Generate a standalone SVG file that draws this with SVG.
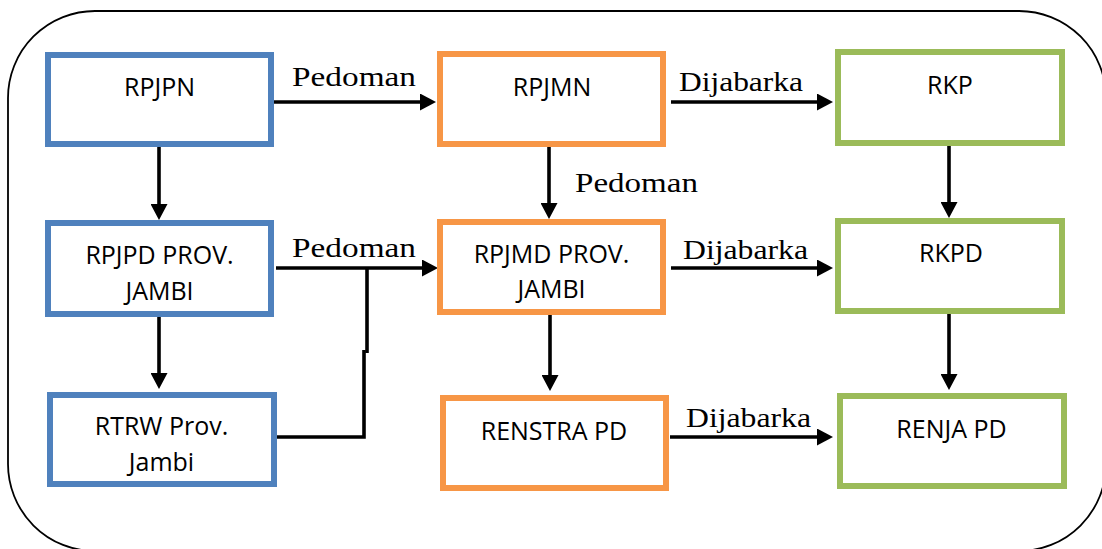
<svg xmlns="http://www.w3.org/2000/svg" width="1102" height="549" viewBox="0 0 1102 549">
<defs>
<style>
.frame{fill:none;stroke:#000;stroke-width:1.8}
.box{fill:#fff;stroke-width:6}
.blue{stroke:#4F81BD}
.orange{stroke:#F79646}
.green{stroke:#9BBB59}
.t{font-family:"Open Sans","Liberation Sans",sans-serif;font-size:25px;fill:#000;text-anchor:middle}
.lbl{font-family:"Liberation Serif","Times New Roman",serif;font-size:27px;fill:#000}
.arr{fill:none;stroke:#000;stroke-width:3.6;marker-end:url(#ah)}
.ln{fill:none;stroke:#000;stroke-width:3.6}
</style>
<marker id="ah" viewBox="0 0 16 17" markerWidth="16" markerHeight="17" refX="8" refY="8.5" markerUnits="userSpaceOnUse" orient="auto">
<polygon points="0,0 16,8.5 0,17" fill="#000"/>
</marker>
</defs>
<rect width="1102" height="549" fill="#fff"/>
<rect class="frame" x="8" y="11" width="1098" height="540" rx="87" ry="87"/>

<g id="connectors">
<line class="arr" x1="274" y1="102" x2="428" y2="102"/>
<line class="arr" x1="671" y1="102" x2="825" y2="102"/>
<line class="arr" x1="276" y1="268" x2="430" y2="268"/>
<line class="arr" x1="671" y1="268" x2="825" y2="268"/>
<line class="arr" x1="670" y1="437" x2="825" y2="437"/>
<line class="arr" x1="159" y1="147" x2="159" y2="212"/>
<line class="arr" x1="159" y1="317" x2="159" y2="381"/>
<line class="arr" x1="549" y1="147" x2="549" y2="211"/>
<line class="arr" x1="550" y1="315" x2="550" y2="383"/>
<line class="arr" x1="949" y1="146" x2="949" y2="210"/>
<line class="arr" x1="949" y1="314" x2="949" y2="382"/>
<polyline class="ln" points="277,437 364,437 364,350"/>
<line class="ln" x1="367" y1="353" x2="367" y2="268"/>
<text class="lbl" x="292" y="86" textLength="124" lengthAdjust="spacingAndGlyphs">Pedoman</text>
<text class="lbl" x="679" y="91" textLength="124" lengthAdjust="spacingAndGlyphs">Dijabarka</text>
<text class="lbl" x="575" y="192" textLength="123" lengthAdjust="spacingAndGlyphs">Pedoman</text>
<text class="lbl" x="292" y="257" textLength="124" lengthAdjust="spacingAndGlyphs">Pedoman</text>
<text class="lbl" x="683" y="259" textLength="125" lengthAdjust="spacingAndGlyphs">Dijabarka</text>
<text class="lbl" x="686" y="427" textLength="125" lengthAdjust="spacingAndGlyphs">Dijabarka</text>
</g>

<g id="rpjpn">
<rect class="box blue" x="48" y="55" width="223" height="89"/>
<text class="t" x="159.5" y="96">RPJPN</text>
</g>
<g id="rpjpd">
<rect class="box blue" x="48" y="223" width="223" height="91"/>
<text class="t" x="159.5" y="264">RPJPD PROV.</text>
<text class="t" x="159.5" y="300">JAMBI</text>
</g>
<g id="rtrw">
<rect class="box blue" x="50" y="395" width="224" height="89"/>
<text class="t" x="161.5" y="435">RTRW Prov.</text>
<text class="t" x="161.5" y="471">Jambi</text>
</g>
<g id="rpjmn">
<rect class="box orange" x="440" y="54" width="223" height="90"/>
<text class="t" x="552" y="96">RPJMN</text>
</g>
<g id="rpjmd">
<rect class="box orange" x="440" y="222" width="223" height="90"/>
<text class="t" x="551.5" y="263">RPJMD PROV.</text>
<text class="t" x="551.5" y="298">JAMBI</text>
</g>
<g id="renstra">
<rect class="box orange" x="443" y="398" width="223" height="90"/>
<text class="t" x="554" y="440">RENSTRA PD</text>
</g>
<g id="rkp">
<rect class="box green" x="838" y="52" width="224" height="91"/>
<text class="t" x="950" y="94">RKP</text>
</g>
<g id="rkpd">
<rect class="box green" x="838" y="221" width="224" height="90"/>
<text class="t" x="951" y="262">RKPD</text>
</g>
<g id="renja">
<rect class="box green" x="840" y="396" width="224" height="90"/>
<text class="t" x="951.5" y="438">RENJA PD</text>
</g>
</svg>
